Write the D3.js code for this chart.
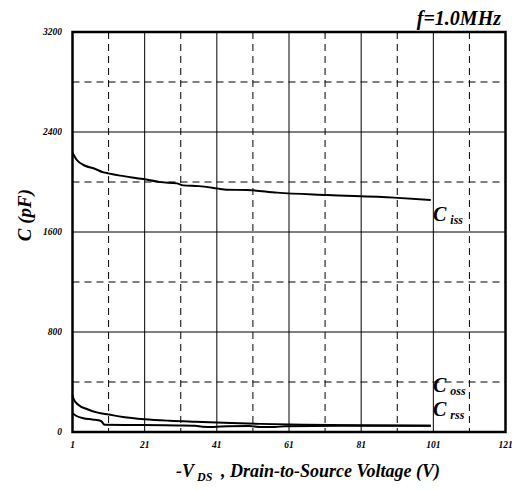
<!DOCTYPE html>
<html>
<head>
<meta charset="utf-8">
<script src="https://cdn.jsdelivr.net/npm/d3@7"></script>
<style>
  body { margin: 0; background: #fff; }
  text { font-family: "Liberation Serif", "Times New Roman", serif; font-weight: bold; font-style: italic; fill: #000; }
</style>
</head>
<body>
<svg id="chart" width="512" height="490"></svg>
<script>
  // values: [-Vds (V), C (pF)]
  var ciss = [[1,2234],[2.2,2176],[4.5,2130],[7,2108],[9.6,2077],[10.9,2069],[14.2,2051],[20.6,2024],
    [25.3,1999],[29.9,1989],[31.7,1973],[36,1967],[41,1949],[43.8,1938],[49.4,1936],[57.7,1915],
    [71.6,1896],[90.1,1875],[100.3,1856]];
  var coss = [[1,296],[1.3,265],[2.5,220],[5.3,180],[8,155],[11,140],[15,120],[21,102],[28,90],
    [35,82],[45,72],[53,65],[65,58],[80,54],[100.3,51]];
  var crss = [[1,150],[2,130],[4,110],[6.5,100],[8.9,88],[9.9,58],[20,56],[30,52],[35,50],[37,42],
    [40,40],[44,46],[50,48],[53,40],[57,40],[60,46],[75,49],[100.3,50]];

  var xTicks = [1, 21, 41, 61, 81, 101, 121];
  var xMinor = [11, 31, 51, 71, 91, 111];
  var yTicks = [0, 800, 1600, 2400, 3200];
  var yMinor = [400, 1200, 2000, 2800];

  var pl = 72.5, pr = 505.5, pt = 32, pb = 432;
  var svg = d3.select('#chart');

  var x = d3.scaleLinear().domain([1, 121]).range([pl, pr]);
  var y = d3.scaleLinear().domain([0, 3200]).range([pb, pt]);

  // grid
  var grid = svg.append('g');
  grid.selectAll('.vmaj').data(xTicks.slice(1, -1)).enter().append('line')
    .attr('x1', (d) => x(d)).attr('x2', (d) => x(d))
    .attr('y1', pt).attr('y2', pb)
    .attr('stroke', '#000').attr('stroke-width', 1);
  grid.selectAll('.hmaj').data(yTicks.slice(1, -1)).enter().append('line')
    .attr('x1', pl).attr('x2', pr)
    .attr('y1', (d) => y(d)).attr('y2', (d) => y(d))
    .attr('stroke', '#000').attr('stroke-width', 1);
  grid.selectAll('.vmin').data(xMinor).enter().append('line')
    .attr('x1', (d) => x(d)).attr('x2', (d) => x(d))
    .attr('y1', pt).attr('y2', pb)
    .attr('stroke', '#000').attr('stroke-width', 1).attr('stroke-dasharray', '7,5');
  grid.selectAll('.hmin').data(yMinor).enter().append('line')
    .attr('x1', pl).attr('x2', pr)
    .attr('y1', (d) => y(d)).attr('y2', (d) => y(d))
    .attr('stroke', '#000').attr('stroke-width', 1).attr('stroke-dasharray', '7,5');

  // curves
  var line = d3.line().x((d) => x(d[0])).y((d) => y(d[1])).curve(d3.curveMonotoneX);
  [ciss, coss, crss].forEach((s) => {
    svg.append('path').attr('d', line(s))
      .attr('fill', 'none').attr('stroke', '#000').attr('stroke-width', 2);
  });

  // frame
  svg.append('rect').attr('x', pl).attr('y', pt)
    .attr('width', pr - pl).attr('height', pb - pt)
    .attr('fill', 'none').attr('stroke', '#000').attr('stroke-width', 2.5);

  // tick labels
  svg.selectAll('.xl').data(xTicks).enter().append('text')
    .attr('x', (d) => x(d)).attr('y', 448)
    .attr('text-anchor', 'middle').attr('font-size', 9.5).text((d) => d);
  svg.selectAll('.yl').data(yTicks).enter().append('text')
    .attr('x', 62).attr('y', (d) => y(d) + 3)
    .attr('text-anchor', 'end').attr('font-size', 9.5).text((d) => d);

  // axis titles
  var xt = svg.append('text').attr('x', 308).attr('y', 477)
    .attr('text-anchor', 'middle').attr('font-size', 18);
  xt.append('tspan').text('-V');
  xt.append('tspan').attr('dx', 3).attr('dy', 4).attr('font-size', 12).text('DS');
  xt.append('tspan').attr('dx', 4).attr('dy', -4).text(' ,  Drain-to-Source Voltage (V)');

  svg.append('text').attr('transform', 'translate(31,215) rotate(-90)')
    .attr('text-anchor', 'middle').attr('font-size', 19).text('C (pF)');

  svg.append('text').attr('x', 501).attr('y', 25)
    .attr('text-anchor', 'end').attr('font-size', 20).text('f=1.0MHz');

  // series labels
  var labels = [['iss', 221], ['oss', 392], ['rss', 416]];
  labels.forEach((l) => {
    var t = svg.append('text').attr('x', 433).attr('y', l[1]).attr('font-size', 20);
    t.append('tspan').text('C');
    t.append('tspan').attr('dx', 4).attr('dy', 3).attr('font-size', 12).text(l[0]);
  });
</script>
</body>
</html>
